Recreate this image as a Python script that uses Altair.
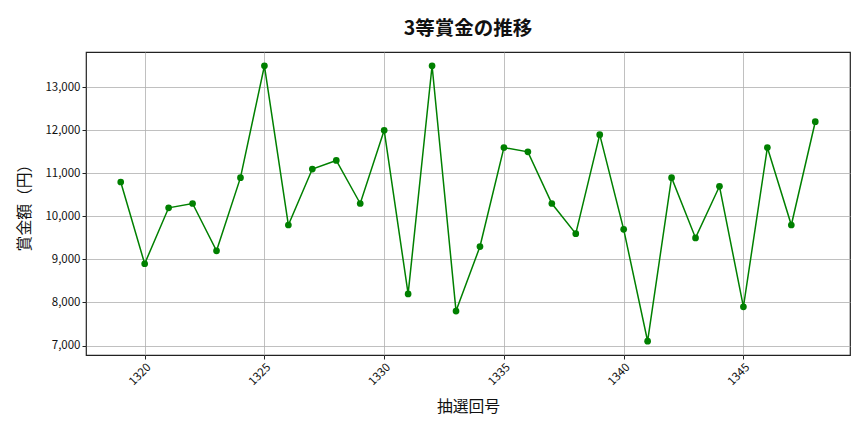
import altair as alt
import pandas as pd

draws = list(range(1319, 1349))
prizes = [10800, 8900, 10200, 10300, 9200, 10900, 13500, 9800, 11100, 11300,
          10300, 12000, 8200, 13500, 7800, 9300, 11600, 11500, 10300, 9600,
          11900, 9700, 7100, 10900, 9500, 10700, 7900, 11600, 9800, 12200]
x_ticks = [1320, 1325, 1330, 1335, 1340, 1345]
y_ticks = [7000, 8000, 9000, 10000, 11000, 12000, 13000]

df = pd.DataFrame({"draw": draws, "prize": prizes})
FONT = "Noto Sans CJK JP"

base = alt.Chart(df).encode(
    x=alt.X("draw:Q", title="抽選回号",
            scale=alt.Scale(domain=[1317.55, 1349.45], nice=False, zero=False),
            axis=alt.Axis(values=x_ticks, labelAngle=-45, labelAlign="right",
                          labelBaseline="top", format="d", titlePadding=12)),
    y=alt.Y("prize:Q", title="賞金額（円）",
            scale=alt.Scale(domain=[6780, 13820], nice=False, zero=False),
            axis=alt.Axis(values=y_ticks, format=",.0f", titlePadding=12)),
)
line = base.mark_line(color="#008000", strokeWidth=1.5)
pts = base.mark_circle(color="#008000", size=45, opacity=1)

chart = (line + pts).properties(
    width=764, height=303,
    title=alt.TitleParams("3等賞金の推移", fontSize=19.5, fontWeight="bold",
                          font=FONT, offset=13, color="#111"),
    autosize=alt.AutoSizeParams(type="none"),
    padding={"left": 78, "top": 44, "right": 6, "bottom": 70},
).configure_view(stroke="#222", strokeWidth=1.2).configure_axis(
    labelFont=FONT, titleFont=FONT, labelFontSize=11.5, titleFontSize=15.8,
    titleFontWeight="normal", titleColor="#111", labelColor="#111",
    grid=True, gridColor="#b0b0b0", gridWidth=0.8, domain=False,
    tickColor="#222", tickSize=4,
)
chart.save("out.html", embed_options={"renderer": "svg", "actions": False})
